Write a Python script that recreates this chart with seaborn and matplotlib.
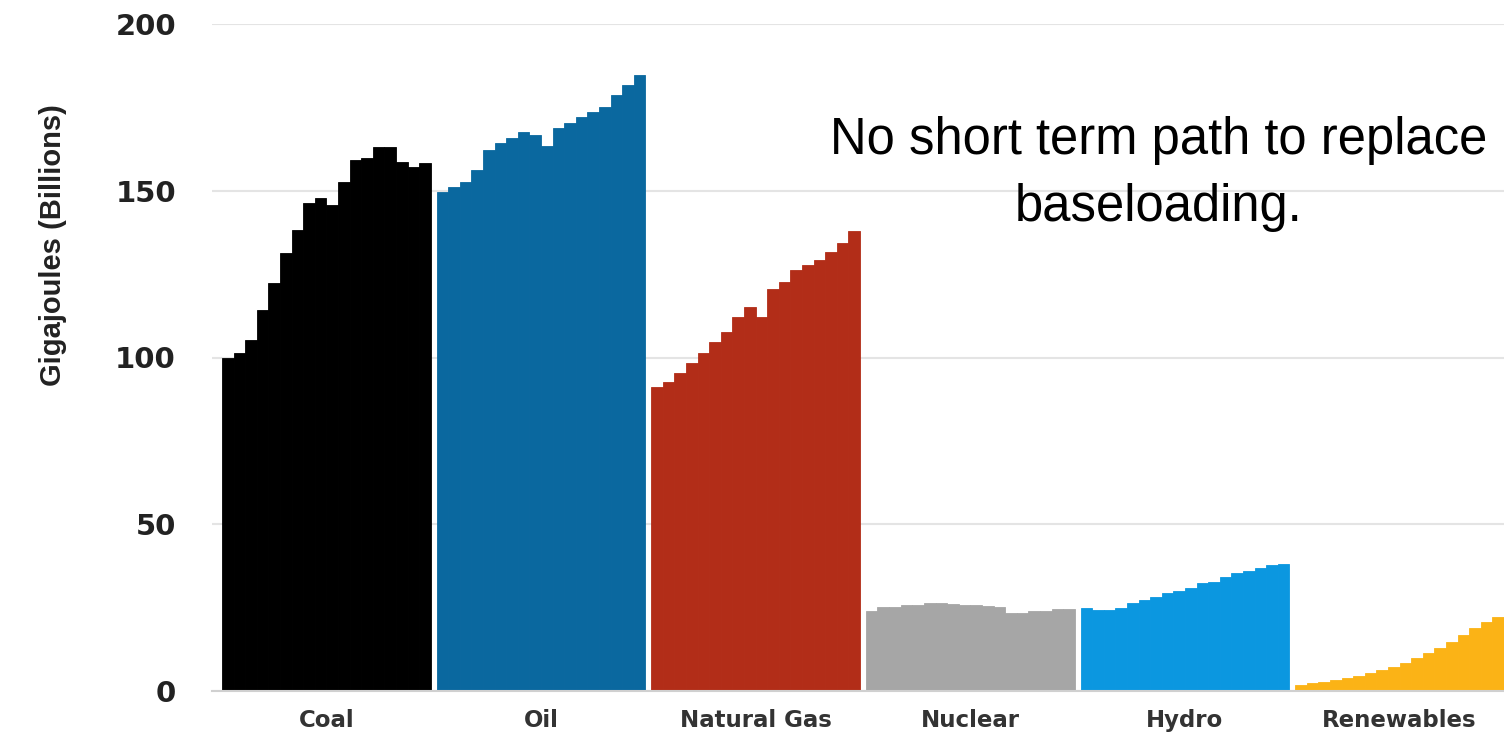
import numpy as np
import pandas as pd
import seaborn as sns
import matplotlib.pyplot as plt

categories = ["Coal", "Oil", "Natural Gas", "Nuclear", "Hydro", "Renewables"]

coal = [99.8, 101.3, 105.2, 114.2, 122.2, 131.2, 138.2, 146.2, 147.7, 145.7,
        152.7, 159.2, 159.7, 163.2, 163.2, 158.7, 157.2, 158.2]
oil = [149.7, 151.2, 152.7, 156.2, 162.2, 164.2, 165.7, 167.7, 166.7, 163.4,
       168.7, 170.2, 172.0, 173.7, 175.2, 178.7, 181.7, 184.7]
natural_gas = [91.2, 92.7, 95.3, 98.3, 101.2, 104.7, 107.7, 112.0, 115.2, 112.2,
               120.4, 122.7, 126.2, 127.7, 129.2, 131.7, 134.2, 138.0]
nuclear = [24.1, 25.3, 25.3, 25.8, 25.8, 26.3, 26.3, 26.1, 25.8, 25.8,
           25.5, 25.3, 23.3, 23.3, 24.0, 24.1, 24.5, 24.6]
hydro = [24.8, 24.3, 24.3, 24.8, 26.3, 27.3, 28.3, 29.3, 30.1, 30.8,
         32.3, 32.8, 34.3, 35.3, 36.1, 36.8, 37.8, 38.1]
renewables = [1.8, 2.3, 2.8, 3.3, 3.8, 4.5, 5.3, 6.3, 7.3, 8.3,
              9.8, 11.3, 12.8, 14.8, 16.8, 18.8, 20.8, 22.2]

series = [coal, oil, natural_gas, nuclear, hydro, renewables]
colors = ["#000000", "#0a689f", "#b22d18", "#a6a6a6", "#0b97e0", "#fbb316"]

yticks = [0, 50, 100, 150, 200]
ylabel = "Gigajoules (Billions)"
note = "No short term path to replace\nbaseloading."

GROUP_STEP = 18.5

rows = []
for g, (cat, vals) in enumerate(zip(categories, series)):
    for j, v in enumerate(vals):
        rows.append({"pos": g * GROUP_STEP + j, "value": v, "source": cat})
df = pd.DataFrame(rows)

sns.set_theme(style="white")
plt.rcParams['font.family'] = ['DejaVu Sans']

W, H = 1504, 734
fig = plt.figure(figsize=(W / 100, H / 100), dpi=100)
ax = fig.add_axes([212 / W, 43 / H, 1 - 212 / W, 667 / H])

sns.barplot(data=df, x="pos", y="value", hue="source",
            palette=dict(zip(categories, colors)), native_scale=True,
            width=1.0, dodge=False, legend=False, saturation=1, ax=ax)

for p in ax.patches:
    p.set_edgecolor(p.get_facecolor())
    p.set_linewidth(0.6)

ax.set_ylim(0, 200)
ax.set_xlim(-1.36, 110)
ax.set_yticks(yticks)
ax.set_yticklabels([str(t) for t in yticks], fontsize=21, fontweight="bold", color="#222222")
ax.tick_params(axis="y", length=0, pad=26)

centers = [g * GROUP_STEP + 8.5 for g in range(len(categories))]
ax.set_xticks(centers)
ax.set_xticklabels(categories, fontsize=16.5, fontweight="bold", color="#333333")
ax.tick_params(axis="x", which="major", length=0, pad=13)
bounds = [-1.1] + [g * GROUP_STEP - 0.25 for g in range(1, len(categories))]
ax.set_xticks(bounds, minor=True)
ax.tick_params(axis="x", which="minor", length=6, width=1, color="#c8c8c8", direction="out")

ax.grid(axis="y", color="#e4e4e4", linewidth=1.5)
ax.grid(axis="x", visible=False)
ax.set_axisbelow(True)
for s in ["top", "left", "right"]:
    ax.spines[s].set_visible(False)
ax.spines["bottom"].set_color("#d0d0d0")
ax.spines["bottom"].set_linewidth(1.5)

ax.set_xlabel("")
ax.set_ylabel(ylabel, fontsize=21, fontweight="bold", color="#222222",
              family=["Liberation Sans", "DejaVu Sans"])
ax.yaxis.set_label_coords(-0.112, 0.669)

fig.text(1159 / W, 1 - 174 / H, note, ha="center", va="center", multialignment="center",
         fontsize=36.5, family=["Liberation Sans", "DejaVu Sans"], color="#000000", linespacing=1.45)

fig.savefig("out.png", dpi=100, facecolor="white")
